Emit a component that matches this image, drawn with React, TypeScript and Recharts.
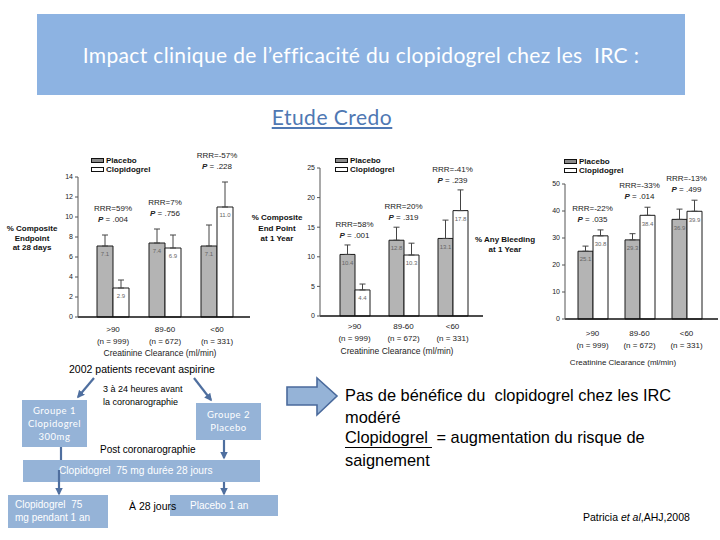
import React from 'react';
import { BarChart, Bar, XAxis, YAxis, ErrorBar, LabelList, Legend, ReferenceDot } from 'recharts';

// Creatinine clearance groups (ml/min)
const categories = ['>90', '89-60', '<60'];
const patientCounts = ['(n = 999)', '(n = 672)', '(n = 331)'];

// % composite endpoint at 28 days
const day28Placebo = [7.1, 7.4, 7.1];
const day28Clopidogrel = [2.9, 6.9, 11.0];
const day28PlaceboHigh = [8.2, 8.8, 9.2];
const day28ClopidogrelHigh = [3.7, 8.2, 13.5];
const day28Rrr = ['RRR=59%', 'RRR=7%', 'RRR=-57%'];
const day28P = ['.004', '.756', '.228'];
const day28Ticks = [0, 2, 4, 6, 8, 10, 12, 14];

// % composite end point at 1 year
const year1Placebo = [10.4, 12.8, 13.1];
const year1Clopidogrel = [4.4, 10.3, 17.8];
const year1PlaceboHigh = [12.0, 15.0, 16.2];
const year1ClopidogrelHigh = [5.4, 12.3, 21.3];
const year1Rrr = ['RRR=58%', 'RRR=20%', 'RRR=-41%'];
const year1P = ['.001', '.319', '.239'];
const year1Ticks = [0, 5, 10, 15, 20, 25];

// % any bleeding at 1 year
const bleedPlacebo = [25.1, 29.3, 36.9];
const bleedClopidogrel = [30.8, 38.4, 39.9];
const bleedPlaceboHigh = [27.0, 31.6, 40.7];
const bleedClopidogrelHigh = [33.0, 41.4, 44.0];
const bleedRrr = ['RRR=-22%', 'RRR=-33%', 'RRR=-13%'];
const bleedP = ['.035', '.014', '.499'];
const bleedTicks = [0, 10, 20, 30, 40, 50];

const chartFont = "'Liberation Sans Narrow', 'Liberation Sans', Arial, sans-serif";
const slideBlue = '#95b3d7';
const lineBlue = '#4f6f9f';

type PanelProps = {
  left: number;
  top: number;
  width: number;
  height: number;
  margin: { top: number; right: number; bottom: number; left: number };
  padding: { left: number; right: number };
  placebo: number[];
  clopidogrel: number[];
  placeboHigh: number[];
  clopidogrelHigh: number[];
  rrr: string[];
  pValues: string[];
  ticks: number[];
  barSize: number;
  tickDy: number;
  noteGap: number;
  legendPos: { left: number; top: number };
};

function CategoryTick(props: any) {
  const { x, y, payload, dy } = props;
  const i = categories.indexOf(payload.value);
  return (
    <text x={x} y={y + dy} textAnchor="middle" fontSize={8} fill="#222">
      <tspan x={x}>{payload.value}</tspan>
      <tspan x={x} dy={12}>{patientCounts[i]}</tspan>
    </text>
  );
}

function LegendBox(props: any) {
  const items = [...(props.payload || [])].sort((a: any, b: any) =>
    a.dataKey === 'placebo' ? -1 : b.dataKey === 'placebo' ? 1 : 0
  );
  return (
    <div style={{ fontFamily: chartFont, fontSize: 8, fontWeight: 'bold', lineHeight: '9px', color: '#111' }}>
      {items.map((entry: any) => (
        <div key={entry.value} style={{ display: 'flex', alignItems: 'center' }}>
          <span
            style={{
              display: 'inline-block',
              width: 11,
              height: 3,
              marginRight: 2,
              background: entry.dataKey === 'placebo' ? '#8a8a8a' : '#fff',
              border: entry.dataKey === 'placebo' ? '1.5px solid #111' : '1px solid #111',
            }}
          />
          {entry.value}
        </div>
      ))}
    </div>
  );
}

function Panel(p: PanelProps) {
  const data = categories.map((cat, i) => ({
    cat,
    placebo: p.placebo[i],
    clopidogrel: p.clopidogrel[i],
    placeboErr: [0, +(p.placeboHigh[i] - p.placebo[i]).toFixed(2)],
    clopidogrelErr: [0, +(p.clopidogrelHigh[i] - p.clopidogrel[i]).toFixed(2)],
  }));
  const yMax = p.ticks[p.ticks.length - 1];

  // RRR / P text sits above the higher error bar of each pair
  const noteAt = (i: number) => (props: any) => {
    const vb = props.viewBox || props;
    const cx = vb.x + (vb.width || 0) / 2;
    const cy = vb.y + (vb.height || 0) / 2;
    return (
      <g>
        <text x={cx} y={cy - p.noteGap - 11} textAnchor="middle" fontSize={8} fill="#222">
          {p.rrr[i]}
        </text>
        <text x={cx} y={cy - p.noteGap} textAnchor="middle" fontSize={8} fill="#222">
          <tspan fontStyle="italic" fontWeight="bold">P</tspan>
          <tspan> = {p.pValues[i]}</tspan>
        </text>
      </g>
    );
  };

  return (
    <div style={{ position: 'absolute', left: p.left, top: p.top, fontFamily: chartFont }}>
      <BarChart width={p.width} height={p.height} data={data} margin={p.margin} barGap={0}>
        <XAxis
          dataKey="cat"
          tickLine={false}
          tickSize={0}
          axisLine={{ stroke: '#111', strokeWidth: 1.5 }}
          padding={p.padding}
          height={30}
          interval={0}
          tick={(t: any) => <CategoryTick {...t} dy={p.tickDy} />}
        />
        <YAxis
          domain={[0, yMax]}
          ticks={p.ticks}
          width={24}
          tickSize={3}
          tickMargin={2}
          axisLine={{ stroke: '#555' }}
          tickLine={{ stroke: '#555' }}
          tick={{ fontSize: 7, fill: '#222' }}
        />
        <Legend
          content={LegendBox}
          layout="vertical"
          align="center"
          verticalAlign="middle"
          wrapperStyle={{ left: p.legendPos.left, top: p.legendPos.top, width: 'auto' }}
        />
        <Bar
          dataKey="placebo"
          name="Placebo"
          fill="#b4b4b4"
          stroke="#1a1a1a"
          strokeWidth={1}
          barSize={p.barSize}
          isAnimationActive={false}
        >
          <ErrorBar dataKey="placeboErr" width={3} stroke="#444" strokeWidth={1} direction="y" isAnimationActive={false} />
          <LabelList
            dataKey="placebo"
            position="insideTop"
            offset={6}
            fontSize={6}
            fill="#666"
            formatter={(v: any) => Number(v).toFixed(1)}
          />
        </Bar>
        <Bar
          dataKey="clopidogrel"
          name="Clopidogrel"
          fill="#ffffff"
          stroke="#1a1a1a"
          strokeWidth={1}
          barSize={p.barSize}
          isAnimationActive={false}
        >
          <ErrorBar dataKey="clopidogrelErr" width={3} stroke="#444" strokeWidth={1} direction="y" isAnimationActive={false} />
          <LabelList
            dataKey="clopidogrel"
            position="insideTop"
            offset={6}
            fontSize={6}
            fill="#666"
            formatter={(v: any) => Number(v).toFixed(1)}
          />
        </Bar>
        {categories.map((cat, i) => (
          <ReferenceDot
            key={cat}
            x={cat}
            y={Math.max(p.placeboHigh[i], p.clopidogrelHigh[i])}
            r={0}
            fill="none"
            stroke="none"
            label={noteAt(i)}
          />
        ))}
      </BarChart>
    </div>
  );
}

const abs = (left: number, top: number, extra: React.CSSProperties = {}): React.CSSProperties => ({
  position: 'absolute',
  left,
  top,
  ...extra,
});

const axisTitle: React.CSSProperties = {
  fontFamily: chartFont,
  fontSize: 8,
  fontWeight: 'bold',
  textAlign: 'center',
  color: '#111',
};

const clearanceTitle: React.CSSProperties = {
  fontFamily: chartFont,
  fontSize: 8.5,
  textAlign: 'center',
  color: '#222',
  whiteSpace: 'nowrap',
};

const boxText: React.CSSProperties = {
  background: slideBlue,
  color: '#fff',
  fontFamily: "Lato, 'Liberation Sans', sans-serif",
  fontSize: 10,
  boxSizing: 'border-box',
};

const plainText: React.CSSProperties = {
  fontFamily: "'Liberation Sans', Arial, sans-serif",
  fontSize: 10,
  whiteSpace: 'nowrap',
  color: '#000',
};

const conclusionLine: React.CSSProperties = {
  fontFamily: "'Liberation Sans', Arial, sans-serif",
  fontSize: 16.4,
  lineHeight: '21.7px',
  color: '#000',
  whiteSpace: 'pre',
};

export default function App() {
  return (
    <div style={{ position: 'absolute', left: 0, top: 0, width: 720, height: 540, background: '#fff', overflow: 'hidden' }}>
      {/* header */}
      <div
        style={abs(37, 14, {
          width: 648,
          height: 81,
          background: '#8db3e2',
          color: '#fff',
          fontFamily: "Lato, 'Open Sans', sans-serif",
          fontSize: 21,
          letterSpacing: 0.35,
          display: 'flex',
          alignItems: 'center',
          justifyContent: 'center',
          whiteSpace: 'pre',
        })}
      >
        {'Impact clinique de l\u2019efficacité du clopidogrel chez les  IRC :'}
      </div>
      <div
        style={abs(222, 104, {
          width: 220,
          textAlign: 'center',
          fontFamily: "Lato, 'Open Sans', sans-serif",
          fontSize: 21,
          letterSpacing: 0.5,
          color: '#4f78b3',
          textDecoration: 'underline',
        })}
      >
        Etude Credo
      </div>

      {/* three panels */}
      <Panel
        left={0}
        top={150}
        width={255}
        height={215}
        margin={{ top: 27, right: 5, bottom: 18, left: 54 }}
        padding={{ left: 9, right: 7 }}
        placebo={day28Placebo}
        clopidogrel={day28Clopidogrel}
        placeboHigh={day28PlaceboHigh}
        clopidogrelHigh={day28ClopidogrelHigh}
        rrr={day28Rrr}
        pValues={day28P}
        ticks={day28Ticks}
        barSize={16}
        tickDy={13}
        noteGap={13}
        legendPos={{ left: 91, top: 6 }}
      />
      <Panel
        left={250}
        top={150}
        width={235}
        height={215}
        margin={{ top: 18, right: 2, bottom: 19, left: 46 }}
        padding={{ left: 10, right: 6 }}
        placebo={year1Placebo}
        clopidogrel={year1Clopidogrel}
        placeboHigh={year1PlaceboHigh}
        clopidogrelHigh={year1ClopidogrelHigh}
        rrr={year1Rrr}
        pValues={year1P}
        ticks={year1Ticks}
        barSize={15}
        tickDy={11}
        noteGap={7}
        legendPos={{ left: 85, top: 6 }}
      />
      <Panel
        left={480}
        top={150}
        width={240}
        height={225}
        margin={{ top: 34, right: 2, bottom: 26, left: 61 }}
        padding={{ left: 4, right: 8 }}
        placebo={bleedPlacebo}
        clopidogrel={bleedClopidogrel}
        placeboHigh={bleedPlaceboHigh}
        clopidogrelHigh={bleedClopidogrelHigh}
        rrr={bleedRrr}
        pValues={bleedP}
        ticks={bleedTicks}
        barSize={15}
        tickDy={15}
        noteGap={8}
        legendPos={{ left: 84, top: 7 }}
      />

      {/* axis titles */}
      <div style={abs(0, 224, { ...axisTitle, width: 64, lineHeight: '9.5px' })}>
        % Composite<br />Endpoint<br />at 28 days
      </div>
      <div style={abs(247, 213, { ...axisTitle, width: 60, lineHeight: '10.5px' })}>
        % Composite<br />End Point<br />at 1 Year
      </div>
      <div style={abs(465, 235, { ...axisTitle, width: 80, lineHeight: '9.5px' })}>
        % Any Bleeding<br />at 1 Year
      </div>
      <div style={abs(60, 348, { ...clearanceTitle, width: 200 })}>Creatinine Clearance (ml/min)</div>
      <div style={abs(297, 346, { ...clearanceTitle, width: 200 })}>Creatinine Clearance (ml/min)</div>
      <div style={abs(523, 358, { ...clearanceTitle, width: 200, fontSize: 8 })}>Creatinine Clearance (ml/min)</div>

      {/* study flow */}
      <div style={abs(57, 363, { ...plainText, width: 170, textAlign: 'center', fontSize: 10.5 })}>
        2002 patients recevant aspirine
      </div>
      <div style={abs(103, 383, { ...plainText, fontSize: 9, lineHeight: '13px' })}>
        3 à 24 heures avant
        <br />
        la coronarographie
      </div>
      <div
        style={abs(22, 400, {
          ...boxText,
          width: 65,
          height: 47,
          textAlign: 'center',
          fontSize: 9.5,
          lineHeight: '13px',
          paddingTop: 4,
          letterSpacing: 0.5,
        })}
      >
        Groupe 1<br />Clopidogrel<br />300mg
      </div>
      <div
        style={abs(196, 403, {
          ...boxText,
          width: 65,
          height: 37,
          textAlign: 'center',
          fontSize: 9.5,
          lineHeight: '12.5px',
          paddingTop: 6,
          letterSpacing: 0.5,
        })}
      >
        Groupe 2<br />Placebo
      </div>
      <div style={abs(100, 444, plainText)}>Post coronarographie</div>
      <div
        style={abs(23, 460, {
          ...boxText,
          width: 237,
          height: 22,
          lineHeight: '22px',
          paddingLeft: 36,
          fontFamily: "'Liberation Sans', Arial, sans-serif",
          fontSize: 10.2,
          whiteSpace: 'pre',
        })}
      >
        {'Clopidogrel  75 mg durée 28 jours'}
      </div>
      <div
        style={abs(8, 495, {
          ...boxText,
          width: 100,
          height: 33,
          paddingLeft: 7,
          paddingTop: 4,
          lineHeight: '12.5px',
          fontFamily: "'Liberation Sans', Arial, sans-serif",
          whiteSpace: 'pre',
        })}
      >
        {'Clopidogrel  75\nmg pendant 1 an'}
      </div>
      <div
        style={abs(170, 495, {
          ...boxText,
          width: 108,
          height: 21,
          lineHeight: '21px',
          paddingLeft: 20,
          fontFamily: "'Liberation Sans', Arial, sans-serif",
        })}
      >
        Placebo 1 an
      </div>
      <div style={abs(129, 500, { ...plainText, fontSize: 10.5 })}>À 28 jours</div>

      <svg width={720} height={540} style={abs(0, 0, { pointerEvents: 'none' })}>
        <defs>
          <marker id="head" viewBox="0 0 10 10" refX="8" refY="5" markerWidth="3.5" markerHeight="3.5" orient="auto">
            <path d="M0,0 L10,5 L0,10 z" fill={lineBlue} />
          </marker>
        </defs>
        <g stroke={lineBlue} strokeWidth={2.2} fill="none">
          <line x1={94} y1={378} x2={78} y2={397} markerEnd="url(#head)" />
          <line x1={194} y1={378} x2={211} y2={400} markerEnd="url(#head)" />
          <line x1={61} y1={447} x2={61} y2={460} />
          <line x1={224} y1={440} x2={224} y2={458} markerEnd="url(#head)" />
          <line x1={59} y1={470} x2={59} y2={494} markerEnd="url(#head)" />
          <line x1={224} y1={482} x2={224} y2={494} markerEnd="url(#head)" />
        </g>
        <polygon
          points="287,387 317,387 317,378 337,396 317,415 317,405 287,405"
          fill={slideBlue}
          stroke="#4a6a9c"
          strokeWidth={1.6}
        />
      </svg>

      {/* conclusion */}
      <div style={abs(345, 385, conclusionLine)}>{'Pas de bénéfice du  clopidogrel chez les IRC'}</div>
      <div style={abs(345, 406.7, conclusionLine)}>modéré</div>
      <div style={abs(345, 428.4, { ...conclusionLine, display: 'flex' })}>
        <span style={{ borderBottom: '1.3px solid #000', paddingRight: 4, lineHeight: '19px' }}>Clopidogrel</span>
        <span style={{ lineHeight: '19px' }}>{' = augmentation du risque de'}</span>
      </div>
      <div style={abs(345, 450.1, conclusionLine)}>saignement</div>
      <div style={abs(583, 511, { ...plainText, fontSize: 10.5 })}>
        Patricia <i>et al</i>,AHJ,2008
      </div>
    </div>
  );
}
